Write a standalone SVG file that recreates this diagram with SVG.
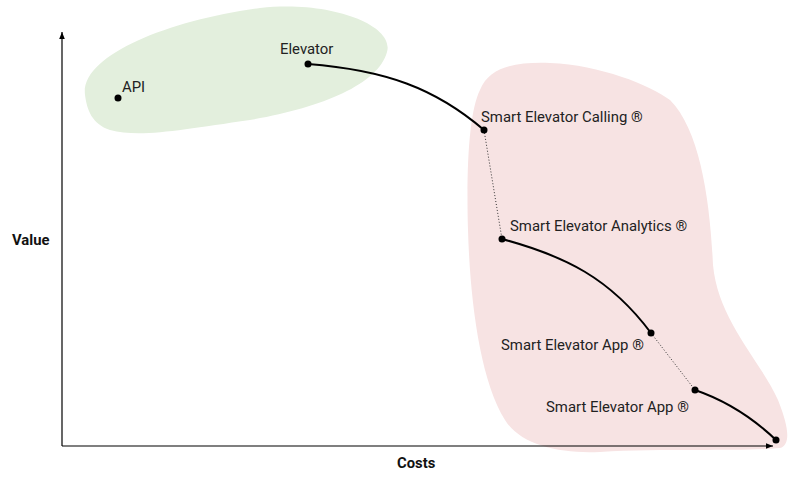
<svg xmlns="http://www.w3.org/2000/svg" width="800" height="478" viewBox="0 0 800 478">
<style>
.lbl{font-family:Roboto,"Liberation Sans",sans-serif;font-size:14.9px;fill:#222}
.axl{font-family:Roboto,"Liberation Sans",sans-serif;font-size:14.8px;font-weight:bold;fill:#111}
.dot{fill:#000}
.solid{fill:none;stroke:#000;stroke-width:2}
.dotted{fill:none;stroke:#333;stroke-width:1;stroke-dasharray:1 2}
.axis{fill:none;stroke:#000;stroke-width:1.2}
</style>
<defs>
<marker id="ah" viewBox="0 0 10 10" refX="10" refY="5" markerWidth="7" markerHeight="7" markerUnits="userSpaceOnUse" orient="auto">
<path d="M0,1 L10,5 L0,9 Z" fill="#000"/>
</marker>
</defs>
<g id="regions">
<path id="green-region" d="M85,95 C80,55 170,20 260,8 C330,0 395,25 387,52 C378,85 320,108 250,120 C180,130 140,138 110,130 C92,124 87,110 85,95 Z" fill="#e3efdd"/>
<path id="pink-region" d="M480,90 C490,65 520,62 550,63 C600,65 650,85 670,100 C700,130 710,200 713,265 C718,320 760,360 778,400 C790,430 790,445 780,448 C740,452 660,448 600,452 C560,454 520,445 505,420 C480,380 470,300 468,230 C466,160 470,110 480,90 Z" fill="#f7e3e3"/>
</g>
<g id="axes">
<line class="axis" x1="62" y1="446" x2="62" y2="32" marker-end="url(#ah)"/>
<line class="axis" x1="62" y1="446" x2="773" y2="446" marker-end="url(#ah)"/>
<text class="axl" x="12" y="245">Value</text>
<text class="axl" x="397" y="468">Costs</text>
</g>
<g id="connectors">
<path class="solid" d="M308,64 C385,70 435,88 484,130"/>
<path class="dotted" d="M484,130 L502,239"/>
<path class="solid" d="M502,239 C565,256 610,278 651,333"/>
<path class="dotted" d="M651,333 L695,390"/>
<path class="solid" d="M695,390 C730,402 755,420 776,440"/>
</g>
<g id="node-api"><circle class="dot" cx="118" cy="98" r="3.5"/><text class="lbl" x="122" y="92">API</text></g>
<g id="node-elevator"><circle class="dot" cx="308" cy="64" r="3.5"/><text class="lbl" x="280" y="54">Elevator</text></g>
<g id="node-calling"><circle class="dot" cx="484" cy="130" r="3.5"/><text class="lbl" x="481" y="122">Smart Elevator Calling ®</text></g>
<g id="node-analytics"><circle class="dot" cx="502" cy="239" r="3.5"/><text class="lbl" x="510" y="231">Smart Elevator Analytics ®</text></g>
<g id="node-app1"><circle class="dot" cx="651" cy="333" r="3.5"/><text class="lbl" x="501" y="350">Smart Elevator App ®</text></g>
<g id="node-app2"><circle class="dot" cx="695" cy="390" r="3.5"/><text class="lbl" x="546" y="412">Smart Elevator App ®</text></g>
<g id="node-end"><circle class="dot" cx="776" cy="440" r="3.5"/></g>
</svg>
